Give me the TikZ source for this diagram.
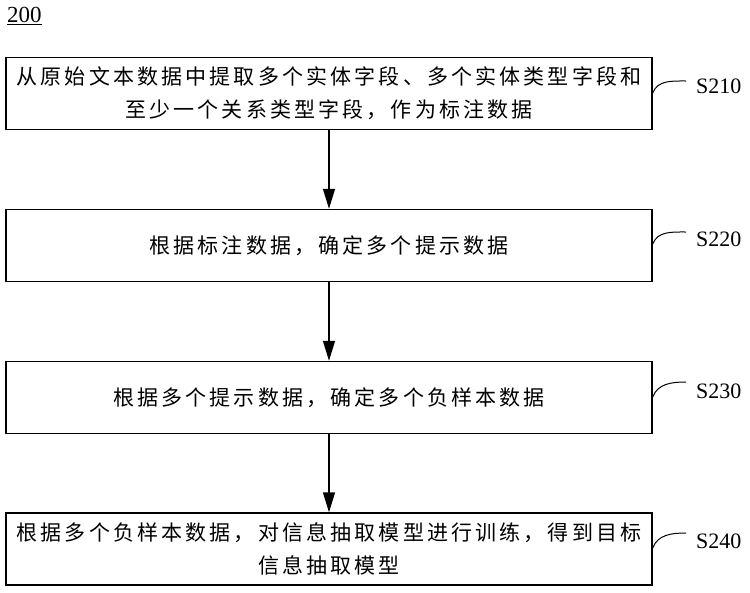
\documentclass[tikz,border=0pt]{standalone}
\usepackage{fontspec}
\setmainfont{Liberation Serif}
\newfontfamily\cjk{Noto Sans CJK SC}[LetterSpace=15]
\usepackage{tikz}
\usetikzlibrary{positioning,arrows.meta}

\begin{document}
\begin{tikzpicture}[
  x=1pt, y=-1pt,
  stepbox/.style={draw, line width=1.5pt, minimum width=646pt, minimum height=72pt,
                  align=center, inner sep=0pt,
                  font=\cjk\fontsize{21}{33}\selectfont},
  steplabel/.style={anchor=west, inner sep=0pt, font=\fontsize{22}{24}\selectfont},
  flow/.style={-{Triangle[length=20pt,width=12pt]}, line width=1.5pt},
  tag/.style={line width=1pt},
]
  \useasboundingbox (0,0) rectangle (750,592);

  % --- figure number ---
  \node[anchor=west, inner sep=0pt, font=\fontsize{23}{24}\selectfont] (fig) at (7,16) {\underline{200}};

  % --- steps ---
  \node[stepbox] (s210) at (329, 93.5)
    {从原始文本数据中提取多个实体字段、多个实体类型字段和\\至少一个关系类型字段，作为标注数据};
  \node[stepbox] (s220) at (329, 245.5) {根据标注数据，确定多个提示数据};
  \node[stepbox] (s230) at (329, 397.5) {根据多个提示数据，确定多个负样本数据};
  \node[stepbox] (s240) at (329, 549)
    {根据多个负样本数据，对信息抽取模型进行训练，得到目标\\信息抽取模型};

  % --- arrows ---
  \draw[flow] (s210) -- (s220);
  \draw[flow] (s220) -- (s230);
  \draw[flow] (s230) -- (s240);

  % --- step labels ---
  \node[steplabel] (l210) at (696, 86) {S210};
  \node[steplabel] (l220) at (696, 239) {S220};
  \node[steplabel] (l230) at (696, 391) {S230};
  \node[steplabel] (l240) at (696, 541) {S240};

  \coordinate (e210) at (686, 81);
  \coordinate (e220) at (686, 232);
  \coordinate (e230) at (686, 382);
  \coordinate (e240) at (686, 533);

  \draw[tag] (s210.east |- 0,93) to[out=70,in=180] (e210);
  \draw[tag] (s220.east |- 0,244) to[out=70,in=180] (e220);
  \draw[tag] (s230.east |- 0,397) to[out=70,in=180] (e230);
  \draw[tag] (s240.east |- 0,548) to[out=70,in=180] (e240);

\end{tikzpicture}
\end{document}
